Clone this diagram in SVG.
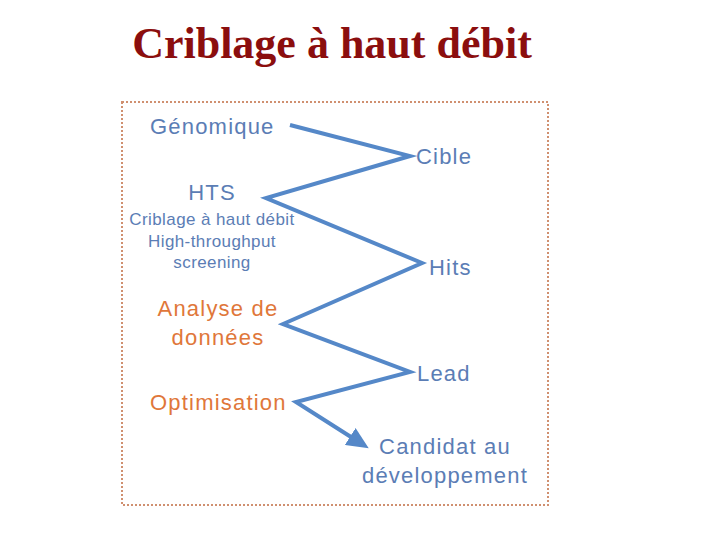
<svg xmlns="http://www.w3.org/2000/svg" width="720" height="540" viewBox="0 0 720 540">
<defs>
<style>
.t{font-family:"Liberation Sans",Arial,sans-serif;fill:#5B7DB5;letter-spacing:1.2px}
.s{letter-spacing:0.4px}
.o{fill:#E0773A}
.c{text-anchor:middle}
</style>
<marker id="ah" markerWidth="5.5" markerHeight="5" refX="3.5" refY="2.5" orient="auto" markerUnits="strokeWidth">
<path d="M0,0 L5.5,2.5 L0,5 Z" fill="#5588C8"/>
</marker>
</defs>
<rect width="720" height="540" fill="#fff"/>
<text x="332" y="58" font-family="'Liberation Serif','Times New Roman',serif" font-weight="bold" font-size="44" fill="#8B0E0E" text-anchor="middle">Criblage à haut débit</text>
<rect x="122" y="102" width="426" height="403" fill="none" stroke="#D09070" stroke-width="2" stroke-dasharray="2,2"/>
<g id="connectors">
<polyline points="290,125 410,156 266,198 422,263 283,324 410,372 296,402 362,444" fill="none" stroke="#5588C8" stroke-width="4" stroke-linejoin="miter" marker-end="url(#ah)"/>
</g>
<g id="genomique"><text class="t" x="150" y="134" font-size="22">Génomique</text></g>
<g id="cible"><text class="t" x="416" y="164" font-size="22">Cible</text></g>
<g id="hts">
<text class="t c" x="212" y="200" font-size="22">HTS</text>
<text class="t s c" x="212" y="225" font-size="17">Criblage à haut débit</text>
<text class="t s c" x="212" y="247" font-size="17">High-throughput</text>
<text class="t s c" x="212" y="268" font-size="17">screening</text>
</g>
<g id="hits"><text class="t" x="429" y="275" font-size="22">Hits</text></g>
<g id="analyse">
<text class="t o c" x="218" y="316" font-size="22">Analyse de</text>
<text class="t o c" x="218" y="345" font-size="22">données</text>
</g>
<g id="lead"><text class="t" x="417" y="381" font-size="22">Lead</text></g>
<g id="optimisation"><text class="t o" x="150" y="410" font-size="22">Optimisation</text></g>
<g id="candidat">
<text class="t c" x="445" y="454" font-size="22">Candidat au</text>
<text class="t c" x="445" y="483" font-size="22">développement</text>
</g>
</svg>
